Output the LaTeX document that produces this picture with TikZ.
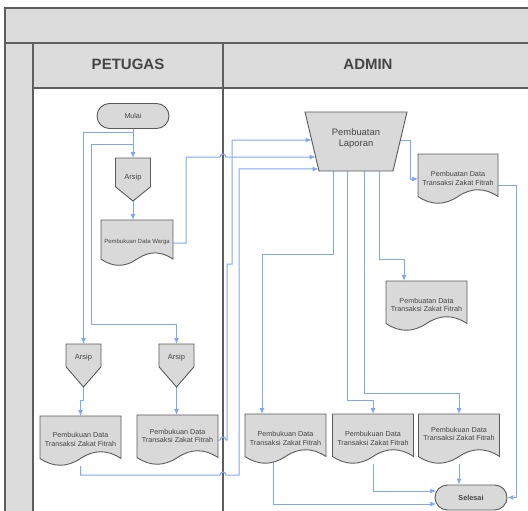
\documentclass[tikz,border=0pt]{standalone}
\usepackage{fontspec}
\setmainfont{Liberation Sans}
\usetikzlibrary{arrows.meta,calc}

\definecolor{lanefill}{HTML}{DCDCDC}
\definecolor{laneline}{HTML}{5E5E5E}
\definecolor{shapefill}{HTML}{D9D9D9}
\definecolor{shapeline}{HTML}{5A5A5A}
\definecolor{linkblue}{HTML}{7CA8F6}
\definecolor{txt}{HTML}{454545}

\pgfdeclarelayer{lanes}
\pgfdeclarelayer{links}
\pgfdeclarelayer{shapes}
\pgfsetlayers{lanes,links,shapes,main}

\tikzset{
  lane/.style={draw=laneline, line width=1.3pt},
  link/.style={draw=linkblue, line width=1pt, -{Latex[length=6pt,width=5pt]}},
  box/.style={draw=none, inner sep=0pt, outer sep=0pt},
  outline/.style={draw=shapeline, fill=shapefill, line width=0.9pt},
  terminal/.style={outline, rounded corners=12.5pt, minimum width=72pt,
    minimum height=25pt, inner sep=0pt, text=txt},
  lbl/.style={text=txt, align=center, inner sep=0pt,
    font=\fontsize{7.2}{8.6}\selectfont},
  header/.style={text=txt, inner sep=0pt, font=\bfseries\fontsize{15}{18}\selectfont},
}

% document symbol with a wavy lower edge, fitted to a box node
\newcommand\docshape[1]{%
  \path[outline] let \p1=(#1.north west), \p2=(#1.south east),
      \n1={\x2-\x1}, \n2={\y1-\y2} in
    (\x1,\y1) -- (\x2,\y1) -- (\x2,\y1-0.85*\n2)
    .. controls (\x1+0.8333*\n1,\y1-0.67*\n2) and (\x1+0.6667*\n1,\y1-0.67*\n2)
    .. (\x1+0.5*\n1,\y1-0.85*\n2)
    .. controls (\x1+0.3333*\n1,\y1-1.03*\n2) and (\x1+0.1667*\n1,\y1-1.03*\n2)
    .. (\x1,\y1-0.85*\n2) -- cycle;}

% off-page connector (pentagon pointing down), fitted to a box node
\newcommand\arsipshape[2]{%
  \path[outline] (#1.north west) -- (#1.north east)
    -- ($(#1.north east)!#2!(#1.south east)$) -- (#1.south)
    -- ($(#1.north west)!#2!(#1.south west)$) -- cycle;}

\begin{document}
\begin{tikzpicture}[x=1pt, y=-1pt]
\useasboundingbox (0,0) rectangle (528,511);

% ---------- swimlanes ----------
\begin{pgfonlayer}{lanes}
  \fill[lanefill] (5,8) rectangle (528,88);
  \fill[lanefill] (5,88) rectangle (33,511);
  \draw[lane] (528,8) -- (5,8) -- (5,511);
  \draw[lane] (5,43) -- (528,43);
  \draw[lane] (33,88) -- (528,88);
  \draw[lane] (33,43) -- (33,511);
  \draw[lane] (223,43) -- (223,511);
\end{pgfonlayer}
\coordinate (divx) at (223,0);
\node[header] (hpetugas) at (128,64) {PETUGAS};
\node[header] (hadmin) at (368,64) {ADMIN};

% ---------- symbols ----------
\node[terminal, font=\fontsize{7.1}{8.5}\selectfont] (mulai) at (133,116) {Mulai};
\node[box, minimum width=35pt, minimum height=43pt] (arsip1) at (133,179.5) {};
\node[box, minimum width=72pt, minimum height=46pt] (warga) at (137,243) {};
\node[box, minimum width=35pt, minimum height=43pt] (arsip2) at (83.5,365.5) {};
\node[box, minimum width=35pt, minimum height=43pt] (arsip3) at (176.5,365.5) {};
\node[box, minimum width=81pt, minimum height=50pt] (pbk1) at (80.5,441) {};
\node[box, minimum width=81pt, minimum height=50pt] (pbk2) at (177.5,440) {};

\node[box, minimum width=102pt, minimum height=59pt] (lap) at (356,141.5) {};
\node[box, minimum width=80pt, minimum height=50pt] (ptr1) at (458,179) {};
\node[box, minimum width=81pt, minimum height=50pt] (ptr2) at (426.5,306) {};
\node[box, minimum width=81pt, minimum height=50pt] (pbkA) at (285.5,439) {};
\node[box, minimum width=81pt, minimum height=50pt] (pbkB) at (373,439) {};
\node[box, minimum width=81pt, minimum height=50pt] (pbkC) at (459,439) {};
\node[terminal, font=\bfseries\fontsize{7.3}{8.5}\selectfont] (selesai) at (471,497.5) {Selesai};

\begin{pgfonlayer}{shapes}
  \arsipshape{arsip1}{0.67}
  \arsipshape{arsip2}{0.53}
  \arsipshape{arsip3}{0.53}
  \docshape{warga}
  \docshape{pbk1}
  \docshape{pbk2}
  \docshape{ptr1}
  \docshape{ptr2}
  \docshape{pbkA}
  \docshape{pbkB}
  \docshape{pbkC}
  \path[outline] (lap.north west) -- (lap.north east)
    -- ($(lap.south east)+(-14,0)$) -- ($(lap.south west)+(14,0)$) -- cycle;
\end{pgfonlayer}

% ---------- labels ----------
\node[lbl, font=\fontsize{7.5}{9}\selectfont] (t-arsip1) at ($(arsip1)+(0,-1.5)$) {Arsip};
\node[lbl, font=\fontsize{7.5}{9}\selectfont] (t-arsip2) at ($(arsip2)+(0,-7.5)$) {Arsip};
\node[lbl, font=\fontsize{7.5}{9}\selectfont] (t-arsip3) at ($(arsip3)+(0,-7.5)$) {Arsip};
\node[lbl, font=\fontsize{6}{7}\selectfont] (t-warga) at ($(warga)+(0,-1)$) {Pembukuan Data Warga};
\node[lbl] (t-pbk1) at ($(pbk1)+(0,-1.5)$) {Pembukuan Data\\Transaksi Zakat Fitrah};
\node[lbl] (t-pbk2) at ($(pbk2)+(0,-4)$) {Pembukuan Data\\Transaksi Zakat Fitrah};
\node[lbl, font=\fontsize{9.4}{11}\selectfont] (t-lap) at ($(lap)+(0,-3)$) {Pembuatan\\Laporan};
\node[lbl] (t-ptr1) at ($(ptr1)+(0,-0.5)$) {Pembuatan Data\\Transaksi Zakat Fitrah};
\node[lbl] (t-ptr2) at ($(ptr2)+(0,-1)$) {Pembuatan Data\\Transaksi Zakat Fitrah};
\node[lbl] (t-pbkA) at ($(pbkA)+(0,-0.5)$) {Pembukuan Data\\Transaksi Zakat Fitrah};
\node[lbl] (t-pbkB) at ($(pbkB)+(0,-0.5)$) {Pembukuan Data\\Transaksi Zakat Fitrah};
\node[lbl] (t-pbkC) at ($(pbkC)+(0,-5)$) {Pembukuan Data\\Transaksi Zakat Fitrah};

% entry and exit points on the sloping sides of the trapezium
\coordinate (lapin1) at ($(lap.north west)!0.475!(lap.south west)+(6.6,0)$);
\coordinate (lapin2) at ($(lap.north west)!0.763!(lap.south west)+(10.7,0)$);
\coordinate (lapin3) at ($(lap.north west)!0.966!(lap.south west)+(13.5,0)$);
\coordinate (lapout) at ($(lap.north east)!0.475!(lap.south east)+(-6.6,0)$);
% entry points on the rounded left end of Selesai
\coordinate (selin1) at ($(selesai.west)+(1.7,-6.5)$);
\coordinate (selin2) at ($(selesai.west)+(1.7,6.5)$);

% ---------- connectors ----------
\begin{pgfonlayer}{links}
  \draw[link] (mulai.south) -- (mulai.south |- arsip1.north);
  \draw[link] (mulai.south) -- ++(0,4) -| (arsip2.north);
  \draw[link] (mulai.south) -- ++(0,16) -| ++(-42,180) -| (arsip3.north);
  \draw[link] (arsip1.south) -- (arsip1.south |- warga.north);
  \draw[link] (arsip2.south) -- ++(0,13) -| (pbk1.north);
  \draw[link] (arsip3.south) -- (arsip3.south |- pbk2.north);

  \draw[link] (warga.east) -- ++(13,0) |- ($(lapin2 -| divx)+(-3,0)$)
    arc[start angle=180, end angle=0, radius=3pt] -- (lapin2);
  \draw[link] (pbk2.east) -- ($(pbk2.east -| divx)+(-3,0)$)
    arc[start angle=180, end angle=0, radius=3pt] -- ++(1,0)
    -- ++(0,-176) -- ++(5,0) |- (lapin1);
  \draw[link] (pbk1) |- ($(pbk1.south -| divx)+(-3,9)$)
    arc[start angle=180, end angle=0, radius=3pt] -- ++(13,0) |- (lapin3);

  \draw[link] (lapout) -- ++(10,0) |- (ptr1.west);
  \draw[link] ($(ptr1.east)+(0,6)$) -- ++(18,0) |- (selesai.east);

  \draw[link] ($(lap.south)+(-23,0)$) -- ++(0,83) -| ($(pbkA.north west)+(17,0)$);
  \draw[link] ($(lap.south)+(-9,0)$) -- ++(0,229) -| (pbkB.north);
  \draw[link] ($(lap.south)+(8,0)$) -- ++(0,222) -| (pbkC.north);
  \draw[link] ($(lap.south)+(23,0)$) -- ++(0,88) -| ($(ptr2.north west)+(18,0)$);

  \draw[link] ($(pbkA.north west)+(28,25)$) |- (selin2);
  \draw[link] (pbkB) |- (selin1);
  \draw[link] (pbkC) -- (pbkC |- selesai.north);
\end{pgfonlayer}
\end{tikzpicture}
\end{document}
